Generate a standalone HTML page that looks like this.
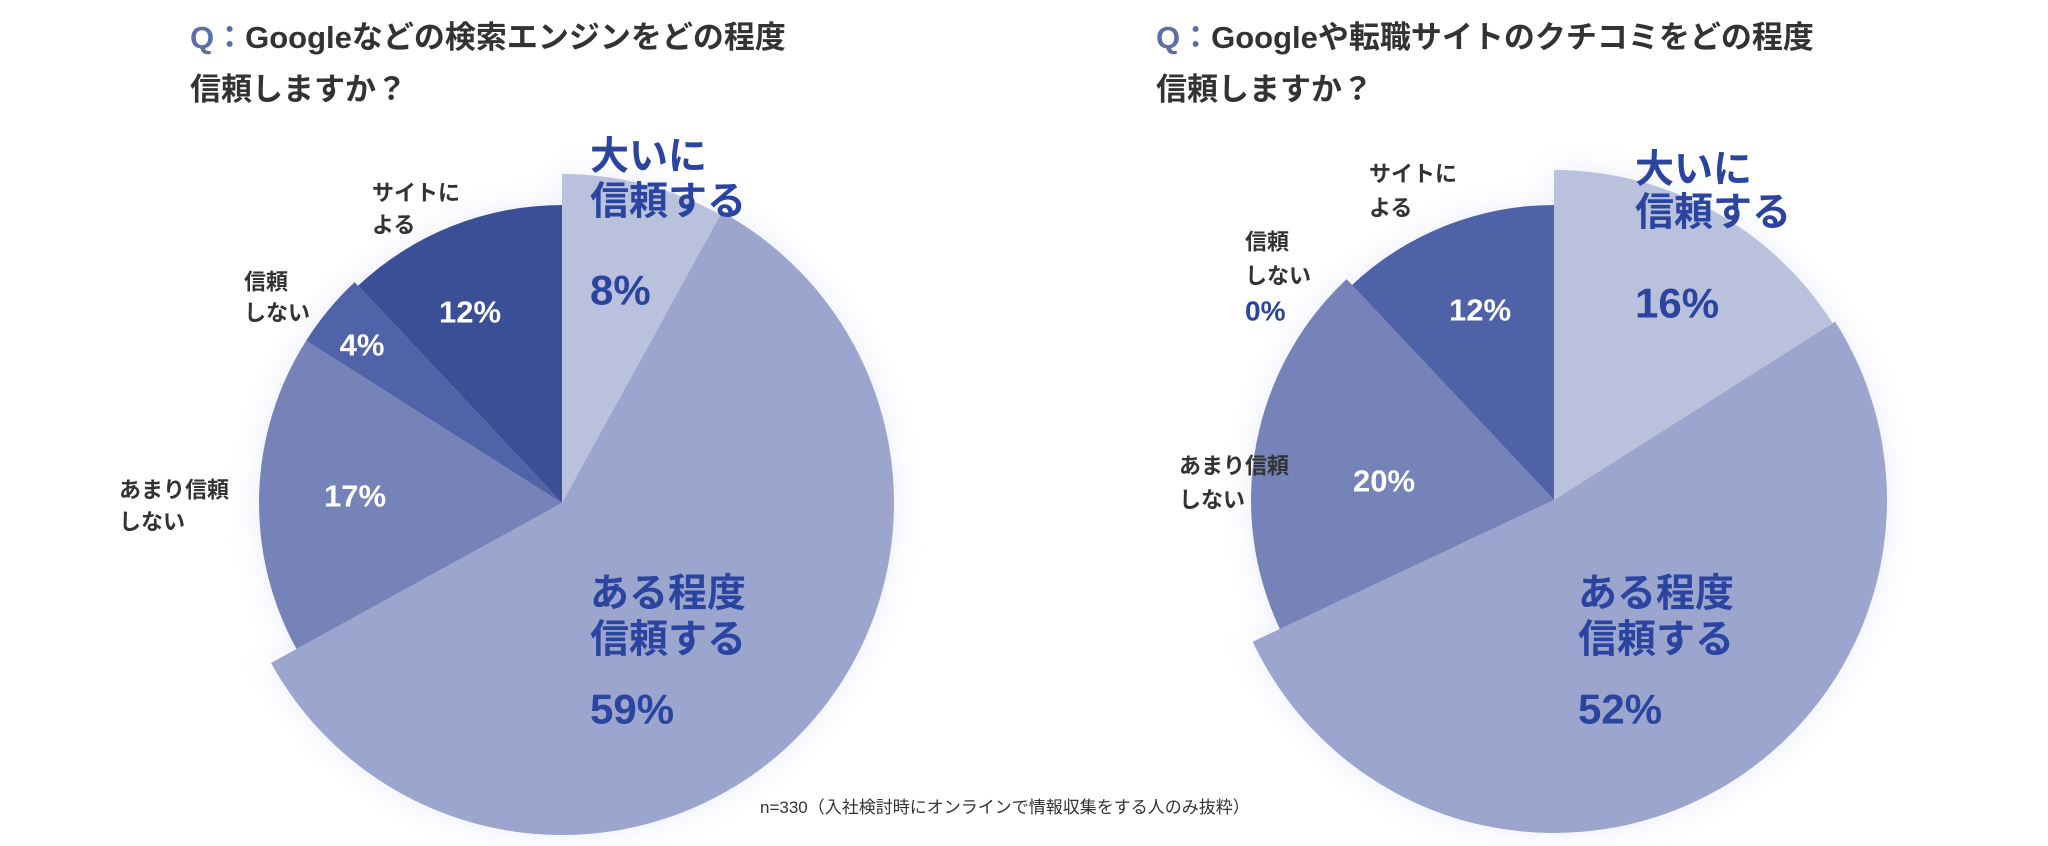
<!DOCTYPE html>
<html><head><meta charset="utf-8">
<style>
html,body{margin:0;padding:0;background:#fff;}
svg{display:block;font-family:"Liberation Sans","Noto Sans CJK JP",sans-serif;font-weight:bold;}
</style></head>
<body>
<svg id="chart" width="2048" height="846" viewBox="0 0 2048 846" xmlns="http://www.w3.org/2000/svg">
<defs>
<filter id="glow" x="-20%" y="-20%" width="140%" height="140%">
<feGaussianBlur in="SourceAlpha" stdDeviation="14"/>
<feColorMatrix type="matrix" values="0 0 0 0 0.55  0 0 0 0 0.6  0 0 0 0 0.85  0 0 0 0.35 0"/>
<feMerge><feMergeNode/><feMergeNode in="SourceGraphic"/></feMerge>
</filter>
</defs>
<g font-size="31" fill="#333">
<text x="190" y="48"><tspan fill="#5b6ea8">Q：</tspan>Googleなどの検索エンジンをどの程度</text>
<text x="190" y="100">信頼しますか？</text>
</g>
<g font-size="31" fill="#333">
<text x="1156" y="48"><tspan fill="#5b6ea8">Q：</tspan>Googleや転職サイトのクチコミをどの程度</text>
<text x="1156" y="100">信頼しますか？</text>
</g>
<g id="leftPie" filter="url(#glow)"></g>
<g id="rightPie" filter="url(#glow)"></g>
<g dominant-baseline="central">
<g font-size="39" fill="#2a44a0">
<text x="590" y="157">大いに</text><text x="590" y="202">信頼する</text>
<text x="590" y="290" font-size="42">8%</text>
<text x="590" y="594">ある程度</text><text x="590" y="640">信頼する</text>
<text x="590" y="709" font-size="42">59%</text>
<text x="1635" y="170">大いに</text><text x="1635" y="213">信頼する</text>
<text x="1635" y="303" font-size="42">16%</text>
<text x="1578" y="594">ある程度</text><text x="1578" y="640">信頼する</text>
<text x="1578" y="709" font-size="42">52%</text>
</g>
<g font-size="22" fill="#333">
<text x="372" y="193">サイトに</text><text x="372" y="225">よる</text>
<text x="244" y="282">信頼</text><text x="244" y="313">しない</text>
<text x="119" y="490">あまり信頼</text><text x="119" y="522">しない</text>
<text x="1369" y="174">サイトに</text><text x="1369" y="208">よる</text>
<text x="1245" y="242">信頼</text><text x="1245" y="276">しない</text>
<text x="1245" y="311" font-size="28" fill="#2a44a0">0%</text>
<text x="1179" y="466">あまり信頼</text><text x="1179" y="500">しない</text>
</g>
<g font-size="31" fill="#fff" text-anchor="middle">
<text x="470" y="312">12%</text>
<text x="362" y="345">4%</text>
<text x="355" y="496">17%</text>
<text x="1480" y="310">12%</text>
<text x="1384" y="481">20%</text>
</g>
</g>
<text x="760" y="813" font-size="17" font-weight="normal" fill="#333">n=330（入社検討時にオンラインで情報収集をする人のみ抜粋）</text>
</svg>
<script>
const leftCategories = ["大いに信頼する","ある程度信頼する","あまり信頼しない","信頼しない","サイトによる"];
const leftValues = [8, 59, 17, 4, 12];
const rightCategories = ["大いに信頼する","ある程度信頼する","あまり信頼しない","信頼しない","サイトによる"];
const rightValues = [16, 52, 20, 0, 12];

const colors = ["#b9c1dc","#9ba5cd","#7583b8","#5163a8","#3b5096"];
const rightColors = ["#b9c1dc","#9ba5cd","#7583b8","#4f62a8","#4f62a8"];
const NS = "http://www.w3.org/2000/svg";

function drawPie(gid, cats, vals, cx, cy, radii, cols) {
  const g = document.getElementById(gid);
  const total = vals.reduce((a,b)=>a+b,0);
  let acc = 0;
  vals.forEach((v,i)=>{
    const a0 = acc/total*2*Math.PI;
    acc += v;
    const a1 = acc/total*2*Math.PI;
    if (v <= 0) return;
    const r = radii[i];
    const x0 = cx + r*Math.sin(a0), y0 = cy - r*Math.cos(a0);
    const x1 = cx + r*Math.sin(a1), y1 = cy - r*Math.cos(a1);
    const large = (a1-a0) > Math.PI ? 1 : 0;
    const p = document.createElementNS(NS,"path");
    p.setAttribute("d",`M${cx},${cy} L${x0},${y0} A${r},${r} 0 ${large} 1 ${x1},${y1} Z`);
    p.setAttribute("fill",cols[i]);
    
    
    g.appendChild(p);
  });
}
drawPie("leftPie", leftCategories, leftValues, 562, 503, [329,332,303,303,298], colors);
drawPie("rightPie", rightCategories, rightValues, 1554, 500, [330,333,303,295,295], rightColors);
</script>
</body></html>
